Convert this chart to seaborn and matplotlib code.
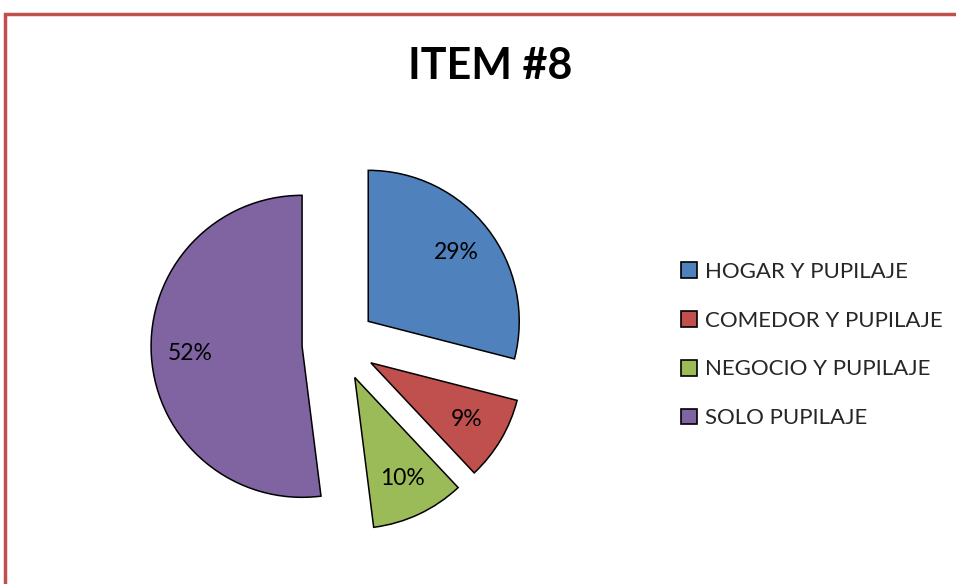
import matplotlib
matplotlib.use("Agg")
import matplotlib.pyplot as plt
import seaborn as sns
from matplotlib.patches import Rectangle, Patch

categories = ["HOGAR Y PUPILAJE", "COMEDOR Y PUPILAJE", "NEGOCIO Y PUPILAJE", "SOLO PUPILAJE"]
percentages = [29, 9, 10, 52]
colors = ["#4F81BD", "#C0504D", "#9BBB59", "#8064A2"]

sns.set_theme(style="white")
plt.rcParams["font.family"] = ["Lato", "DejaVu Sans"]

W, H = 956, 584
fig = plt.figure(figsize=(W / 100, H / 100), dpi=100)

# pie axes: center at (339, 344) px, radius 1 == 151 px
cx, cy, r = 339, 344, 151
half = 1.5 * r
ax = fig.add_axes([(cx - half) / W, (H - cy - half) / H, 2 * half / W, 2 * half / H])

palette = sns.color_palette(colors)
wedges, texts, autotexts = ax.pie(
    percentages,
    colors=palette,
    startangle=90,
    counterclock=False,
    explode=[0.245] * len(percentages),
    autopct="%d%%",
    pctdistance=0.74,
    wedgeprops=dict(edgecolor="black", linewidth=1.1),
    textprops=dict(fontsize=16.5, color="black"),
)
ax.set_xlim(-1.5, 1.5)
ax.set_ylim(-1.5, 1.5)
ax.set_aspect("equal")
ax.axis("off")

fig.text(490 / W, 1 - 66 / H, "ITEM #8", ha="center", va="center",
         fontsize=31, fontweight="bold", color="black")

handles = [Patch(facecolor=c, edgecolor="black", linewidth=1.2) for c in palette]
fig.legend(
    handles, categories,
    loc="center left",
    bbox_to_anchor=(681 / W, 1 - 345 / H),
    frameon=False,
    fontsize=16,
    handlelength=0.72,
    handleheight=0.72,
    handletextpad=0.35,
    labelspacing=1.3,
    borderpad=0,
    borderaxespad=0,
)

# chart-area border
fig.add_artist(Rectangle((5 / W, -0.1), 1.2, 1 - 14 / H + 0.1,
                         transform=fig.transFigure, fill=False,
                         edgecolor="#C0504D", linewidth=2.5))

fig.savefig("out.png", dpi=100, facecolor="white")
